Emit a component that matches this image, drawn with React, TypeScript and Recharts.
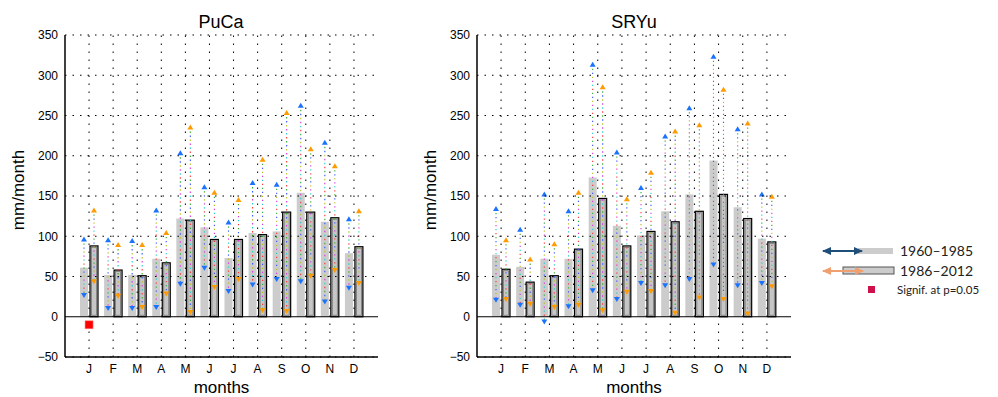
import React from 'react';
import {
  ComposedChart, Bar, XAxis, YAxis, ReferenceLine, Scatter,
} from 'recharts';

const months = ['J', 'F', 'M', 'A', 'M', 'J', 'J', 'A', 'S', 'O', 'N', 'D'];
const yTicks = [-50, 0, 50, 100, 150, 200, 250, 300, 350];
const gridY = [-50, 50, 100, 150, 200, 250, 300, 350];

// PuCa
const pucaMean1 = [61, 52, 52, 72, 122, 111, 73, 104, 106, 154, 118, 79];
const pucaMean2 = [88, 58, 51, 67, 120, 96, 96, 102, 130, 130, 123, 87];
const pucaMax1 = [96, 95, 94, 132, 203, 161, 117, 166, 164, 262, 216, 121];
const pucaMin1 = [27, 11, 11, 12, 41, 61, 32, 40, 47, 44, 19, 36];
const pucaMax2 = [132, 89, 89, 104, 235, 154, 145, 195, 253, 208, 187, 131];
const pucaMin2 = [44, 26, 12, 29, 6, 37, 47, 8, 7, 51, 58, 42];
const pucaSig = [-10, null, null, null, null, null, null, null, null, null, null, null];

// SRYu
const sryuMean1 = [77, 62, 72, 72, 173, 113, 101, 131, 152, 194, 136, 97];
const sryuMean2 = [59, 43, 51, 84, 147, 88, 106, 118, 131, 152, 122, 93];
const sryuMax1 = [134, 108, 152, 131, 313, 204, 160, 224, 259, 323, 233, 152];
const sryuMin1 = [21, 15, -6, 13, 33, 22, 42, 39, 47, 65, 39, 42];
const sryuMax2 = [95, 71, 90, 154, 285, 146, 179, 230, 238, 282, 240, 149];
const sryuMin2 = [22, 16, 12, 15, 8, 31, 32, 5, 24, 22, 4, 38];
const sryuSig = [null, null, null, null, null, null, null, null, null, null, null, null];

const buildData = (m1, m2, x1, n1, x2, n2, sig) =>
  months.map((_, i) => ({
    i,
    m1: m1[i], m2: m2[i], x1: x1[i], n1: n1[i], x2: x2[i], n2: n2[i], sig: sig[i],
  }));

const pucaData = buildData(pucaMean1, pucaMean2, pucaMax1, pucaMin1, pucaMax2, pucaMin2, pucaSig);
const sryuData = buildData(sryuMean1, sryuMean2, sryuMax1, sryuMin1, sryuMax2, sryuMin2, sryuSig);

const dotColors = ['#ff3333', '#33aa33', '#3355ff', '#bbbb22', '#dd33dd', '#22cccc'];
const FONT = '"Liberation Sans", Arial, Helvetica, sans-serif';
const DOT_P = 4;

const makeShape = (kind) => (props) => {
  const { x, y, width, height, payload } = props;
  const value = kind === 1 ? payload.m1 : payload.m2;
  const maxV = kind === 1 ? payload.x1 : payload.x2;
  const minV = kind === 1 ? payload.n1 : payload.n2;
  const zeroY = y + height;
  const k = height / value;
  const yMax = zeroY - maxV * k;
  const yMin = zeroY - minV * k;
  const cx = x + width / 2;
  const color = kind === 1 ? '#1a72ff' : '#ff9a00';
  const period = dotColors.length * DOT_P;
  return (
    <g>
      {kind === 1 ? (
        <rect x={x} y={y} width={width} height={height} fill="#cccccc" />
      ) : (
        <g>
          <rect x={x} y={y} width={width} height={height} fill="#c6c6c6" stroke="#000" strokeWidth={1.2} />
          <rect x={x + 1.5} y={y + 1.5} width={Math.max(0, width - 3)} height={Math.max(0, height - 3)} fill="none" stroke="#777" strokeWidth={0.8} />
        </g>
      )}
      {dotColors.map((c, j) => (
        <line key={j} x1={cx} x2={cx} y1={yMax} y2={yMin} stroke={c} strokeWidth={1.1}
          strokeDasharray={`1.3 ${period - 1.3}`} strokeDashoffset={-j * DOT_P} />
      ))}
      <polygon points={`${cx - 3},${yMax + 2} ${cx + 3},${yMax + 2} ${cx},${yMax - 3}`} fill={color} />
      <polygon points={`${cx - 3},${yMin - 2} ${cx + 3},${yMin - 2} ${cx},${yMin + 3}`} fill={color} />
    </g>
  );
};

const SigSquare = (props) => {
  const { cx, cy } = props;
  if (cx == null || cy == null) return null;
  return <rect x={cx - 4} y={cy - 4} width={8} height={8} fill="#ff0000" stroke="#ff8080" strokeWidth={0.6} />;
};

const Panel = ({ data, marginLeft, marginRight }) => (
  <ComposedChart
    width={420}
    height={397}
    data={data}
    margin={{ top: 35, right: marginRight, bottom: 0, left: marginLeft - 60 }}
    barSize={8}
    barGap={2}
  >
    <XAxis
      dataKey="i"
      type="category"
      padding={{ left: 12, right: 12 }}
      tickFormatter={(v) => months[v]}
      axisLine={{ stroke: '#000', strokeWidth: 1.5 }}
      tickLine={false}
      tickSize={0}
      tickMargin={7}
      height={40}
      tick={{ fill: '#000', fontSize: 12, fontFamily: FONT }}
      label={{ value: 'months', position: 'insideBottom', offset: 4, style: { fill: '#000', fontSize: 17, fontFamily: FONT } }}
    />
    <XAxis xAxisId="top" dataKey="i" orientation="top" height={0} tick={false} tickLine={false}
      axisLine={{ stroke: '#000', strokeWidth: 1.5 }} />
    <YAxis
      domain={[-50, 350]}
      ticks={yTicks}
      allowDataOverflow
      width={60}
      tickFormatter={(v) => (v < 0 ? `\u2212${Math.abs(v)}` : `${v}`)}
      axisLine={{ stroke: '#000', strokeWidth: 1.5 }}
      tickLine={false}
      tickSize={0}
      tickMargin={7}
      tick={{ fill: '#000', fontSize: 12, fontFamily: FONT }}
      label={{ value: 'mm/month', angle: -90, position: 'insideLeft', offset: 13, dy: -6, style: { textAnchor: 'middle', fill: '#000', fontSize: 17, fontFamily: FONT } }}
    />
    <YAxis yAxisId="r" orientation="right" domain={[-50, 350]} width={0} tick={false} tickLine={false}
      axisLine={{ stroke: '#000', strokeWidth: 1.5 }} />
    <Bar dataKey="m1" isAnimationActive={false} shape={makeShape(1)} />
    <Bar dataKey="m2" isAnimationActive={false} shape={makeShape(2)} />
    {gridY.map((v) => (
      <ReferenceLine key={`gy${v}`} y={v} stroke="#000" strokeWidth={1} strokeDasharray="1.5 6" />
    ))}
    {months.map((_, i) => (
      <ReferenceLine key={`gx${i}`} x={i} stroke="#000" strokeWidth={1} strokeDasharray="1.5 6.5" />
    ))}
    <ReferenceLine y={0} stroke="#000" strokeWidth={1.2} />
    <Scatter dataKey="sig" isAnimationActive={false} shape={<SigSquare />} />
  </ComposedChart>
);

const titleStyle = (centerX) => ({
  position: 'absolute',
  left: centerX - 60,
  width: 120,
  top: 11,
  textAlign: 'center',
  fontFamily: FONT,
  fontSize: 18,
  lineHeight: '22px',
  color: '#000',
});

const LFONT = "Lato, 'Open Sans', sans-serif";

const Legend = () => (
  <svg width={180} height={70} style={{ position: 'absolute', left: 818, top: 238 }}>
    <defs>
      <marker id="arrB" markerUnits="userSpaceOnUse" markerWidth="9" markerHeight="8" refX="8" refY="4" orient="auto-start-reverse">
        <path d="M0,0 L9,4 L0,8 z" fill="#1f4e79" />
      </marker>
      <marker id="arrO" markerUnits="userSpaceOnUse" markerWidth="9" markerHeight="8" refX="8" refY="4" orient="auto-start-reverse">
        <path d="M0,0 L9,4 L0,8 z" fill="#f0a070" />
      </marker>
    </defs>
    <rect x={40} y={10} width={35} height={6} fill="#cccccc" />
    <line x1={5} y1={13} x2={44} y2={13} stroke="#1f4e79" strokeWidth={2.2} markerStart="url(#arrB)" markerEnd="url(#arrB)" />
    <text x={82} y={18} fontFamily={LFONT} fontSize={14} fill="#222">1960–1985</text>
    <rect x={25} y={29} width={51} height={7} fill="#cccccc" stroke="#555" strokeWidth={1} />
    <line x1={5} y1={33} x2={45} y2={33} stroke="#f0a070" strokeWidth={2.2} markerStart="url(#arrO)" markerEnd="url(#arrO)" />
    <text x={82} y={38} fontFamily={LFONT} fontSize={14} fill="#222">1986–2012</text>
    <rect x={50} y={48} width={7} height={7} fill="#d0104a" />
    <text x={79} y={56} fontFamily={LFONT} fontSize={11.5} fill="#222">Signif. at p=0.05</text>
  </svg>
);

export default function App() {
  return (
    <div style={{ position: 'absolute', left: 0, top: 0, width: 998, height: 397, background: '#fff', overflow: 'hidden' }}>
      <div style={{ position: 'absolute', left: 0, top: 0 }}>
        <Panel data={pucaData} marginLeft={65} marginRight={42} />
      </div>
      <div style={{ position: 'absolute', left: 412, top: 0 }}>
        <Panel data={sryuData} marginLeft={65} marginRight={41} />
      </div>
      <div style={titleStyle(221)}>PuCa</div>
      <div style={titleStyle(634)}>SRYu</div>
      <Legend />
    </div>
  );
}
